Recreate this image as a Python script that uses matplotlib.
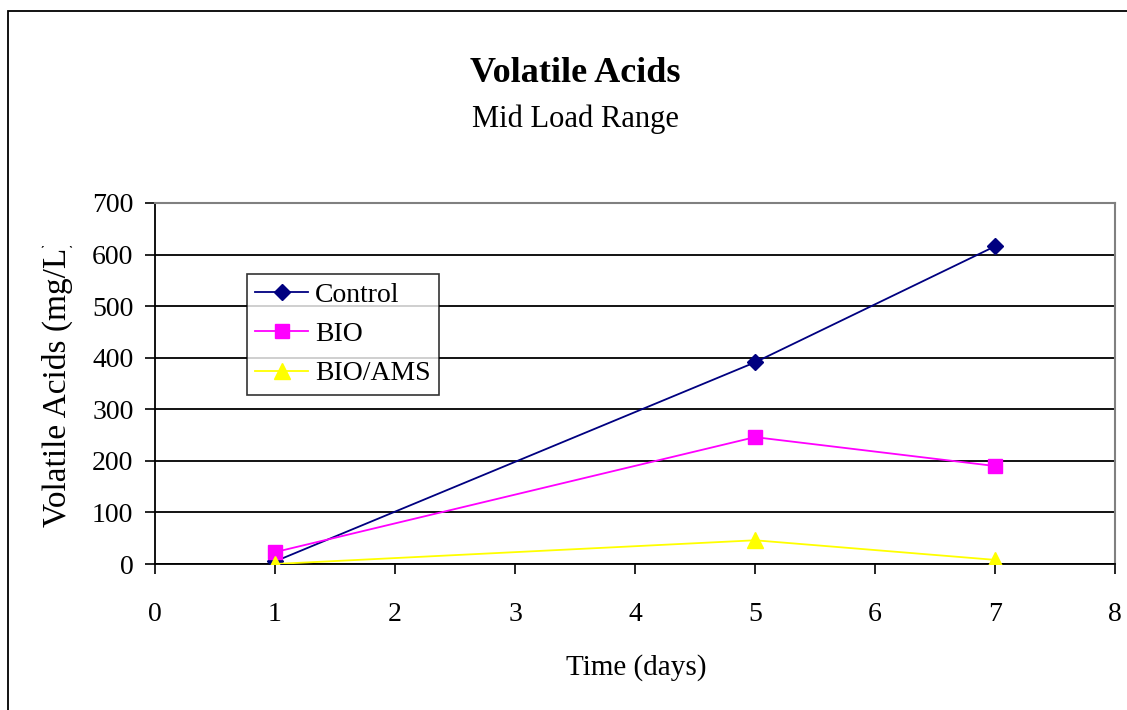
import matplotlib.pyplot as plt
from matplotlib.patches import Rectangle
from matplotlib.transforms import Bbox

# measured volatile acids, mid load range
days = [1, 5, 7]
control = [5, 391, 616]
bio = [23, 246, 190]
bio_ams = [0, 46, 8]

x_ticks = list(range(0, 9))
y_ticks = list(range(0, 701, 100))

plt.rcParams['font.family'] = ['Liberation Serif', 'DejaVu Serif']

fig = plt.figure(figsize=(11.27, 7.10), dpi=100)
ax = fig.add_axes([155 / 1127, 1 - 564 / 710, 960 / 1127, 361 / 710])

ax.plot(days, control, color='#000080', lw=1.3, marker='D', ms=8, label='Control', zorder=3)
ax.plot(days, bio, color='#FF00FF', lw=1.3, marker='s', ms=10, label='BIO', zorder=4)
ax.plot(days, bio_ams, color='#FFFF00', lw=1.3, marker='^', ms=11, label='BIO/AMS', zorder=5)

ax.set_xlim(0, 8)
ax.set_ylim(0, 700)
ax.set_xticks(x_ticks)
ax.set_yticks(y_ticks)
ax.tick_params(axis='both', direction='out', length=7.5, width=1.2, labelsize=20, colors='black')
ax.tick_params(axis='x', pad=20)
ax.tick_params(axis='y', pad=8)
ax.yaxis.grid(True, color='black', lw=1.3)
ax.set_axisbelow(True)
for side in ['top', 'right']:
    ax.spines[side].set_color('#808080')
    ax.spines[side].set_linewidth(1.5)
ax.spines['left'].set_linewidth(1.3)
ax.spines['bottom'].set_linewidth(1.3)

leg = ax.legend(loc='upper left', bbox_to_anchor=(92 / 960, 290 / 361), fontsize=20,
                frameon=True, fancybox=False, edgecolor='black', borderpad=0.3,
                borderaxespad=0, handlelength=1.9, labelspacing=0.5, handletextpad=0.25)
leg.get_frame().set_linewidth(1.2)

fig.text(575 / 1127, 1 - 73 / 710, 'Volatile Acids', ha='center', va='center',
         fontsize=26, fontweight='bold')
fig.text(575 / 1127, 1 - 119 / 710, 'Mid Load Range', ha='center', va='center', fontsize=22)
fig.text(636 / 1127, 1 - 668 / 710, 'Time (days)', ha='center', va='center', fontsize=21)

# axis title is cut off at the top, like the source chart
ylab = fig.text(57 / 1127, 1 - 382 / 710, 'Volatile Acids (mg/L)', ha='center', va='center',
                rotation=90, fontsize=24)
ylab.set_clip_box(Bbox.from_extents(0, 0, 1127, 710 - 246))

# outer chart border
fig.patches.append(Rectangle((8 / 1127, -0.1), 1.2, (710 - 11) / 710 + 0.1,
                             transform=fig.transFigure, fill=False,
                             edgecolor='black', lw=1.3))

fig.savefig('out.png', dpi=100)
